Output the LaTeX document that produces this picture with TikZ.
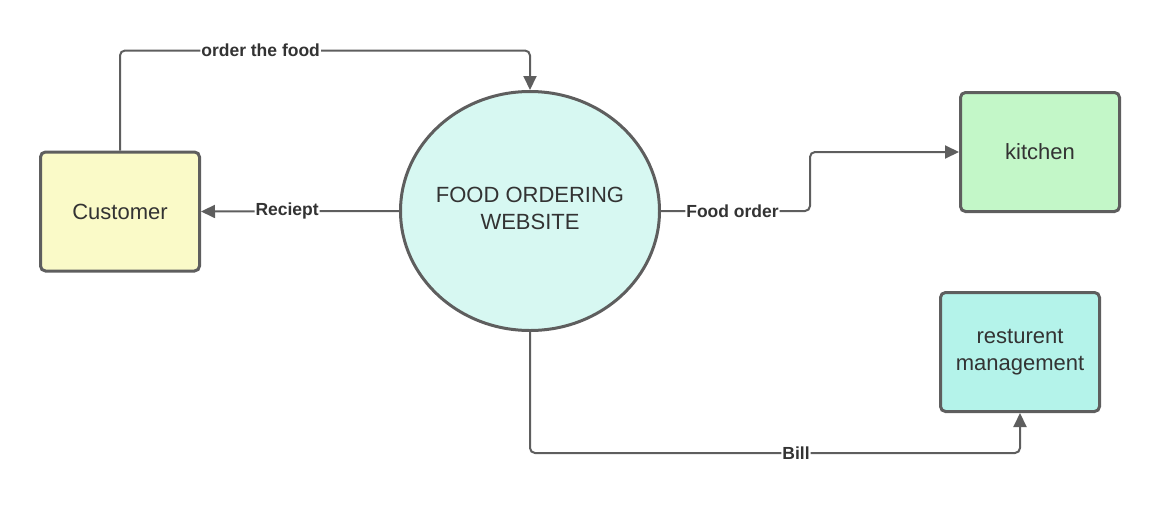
\documentclass[tikz,border=0pt]{standalone}
\usepackage{fontspec}
\setmainfont{Liberation Sans}
\usetikzlibrary{arrows.meta,shapes.geometric}
\definecolor{edge}{HTML}{5E5E5E}
\definecolor{txt}{HTML}{333333}
\definecolor{custfill}{HTML}{FAFAC8}
\definecolor{webfill}{HTML}{D7F8F2}
\definecolor{kitfill}{HTML}{C3F7C8}
\definecolor{restfill}{HTML}{B4F3EA}
\tikzset{
  entity/.style={draw=edge, line width=3pt, rounded corners=5pt, minimum width=159pt, minimum height=119pt, inner sep=0pt, align=center, text=txt, font=\fontsize{22}{27}\selectfont},
  proc/.style={ellipse, draw=edge, line width=3pt, fill=webfill, minimum width=259pt, minimum height=239pt, inner sep=0pt, text=txt, font=\fontsize{22}{27}\selectfont},
  conn/.style={draw=edge, line width=2pt, rounded corners=5pt, -{Triangle[length=14pt,width=13pt]}},
  lbl/.style={fill=white, inner sep=1pt, text=txt, font=\bfseries\fontsize{17.5}{20}\selectfont}
}
\begin{document}
\begin{tikzpicture}[x=1pt,y=-1pt]
\useasboundingbox (0,0) rectangle (1160,504);
\node[entity, fill=custfill] (cust) at (120,211.5) {Customer};
\node[proc] (web) at (530,211) {\makebox[0pt][c]{\raisebox{-2.5pt}{\begin{tabular}{@{}c@{}}FOOD ORDERING\\WEBSITE\end{tabular}}}};
\node[entity, fill=kitfill] (kit) at (1040,152) {kitchen};
\node[entity, fill=restfill] (rest) at (1020,352) {resturent\\management};
\coordinate (c1) at (120,50.5);
\coordinate (c2) at (530,50.5);
\coordinate (f1) at (810,211);
\coordinate (b1) at (530,453);
\coordinate (b2) at (1020,453);
\draw[conn] (cust.north) -- (c1) -- node[lbl,pos=0.343]{order the food} (c2) -- (web.north);
\draw[conn] (web.west) -- node[lbl,pos=0.565]{Reciept} (cust.east);
\draw[conn] (web.east) -- node[lbl,pos=0.48]{Food order} (f1) |- (kit.west);
\draw[conn] (web.south) -- (b1) -- node[lbl,pos=0.543]{Bill} (b2) -- (rest.south);
\end{tikzpicture}
\end{document}
